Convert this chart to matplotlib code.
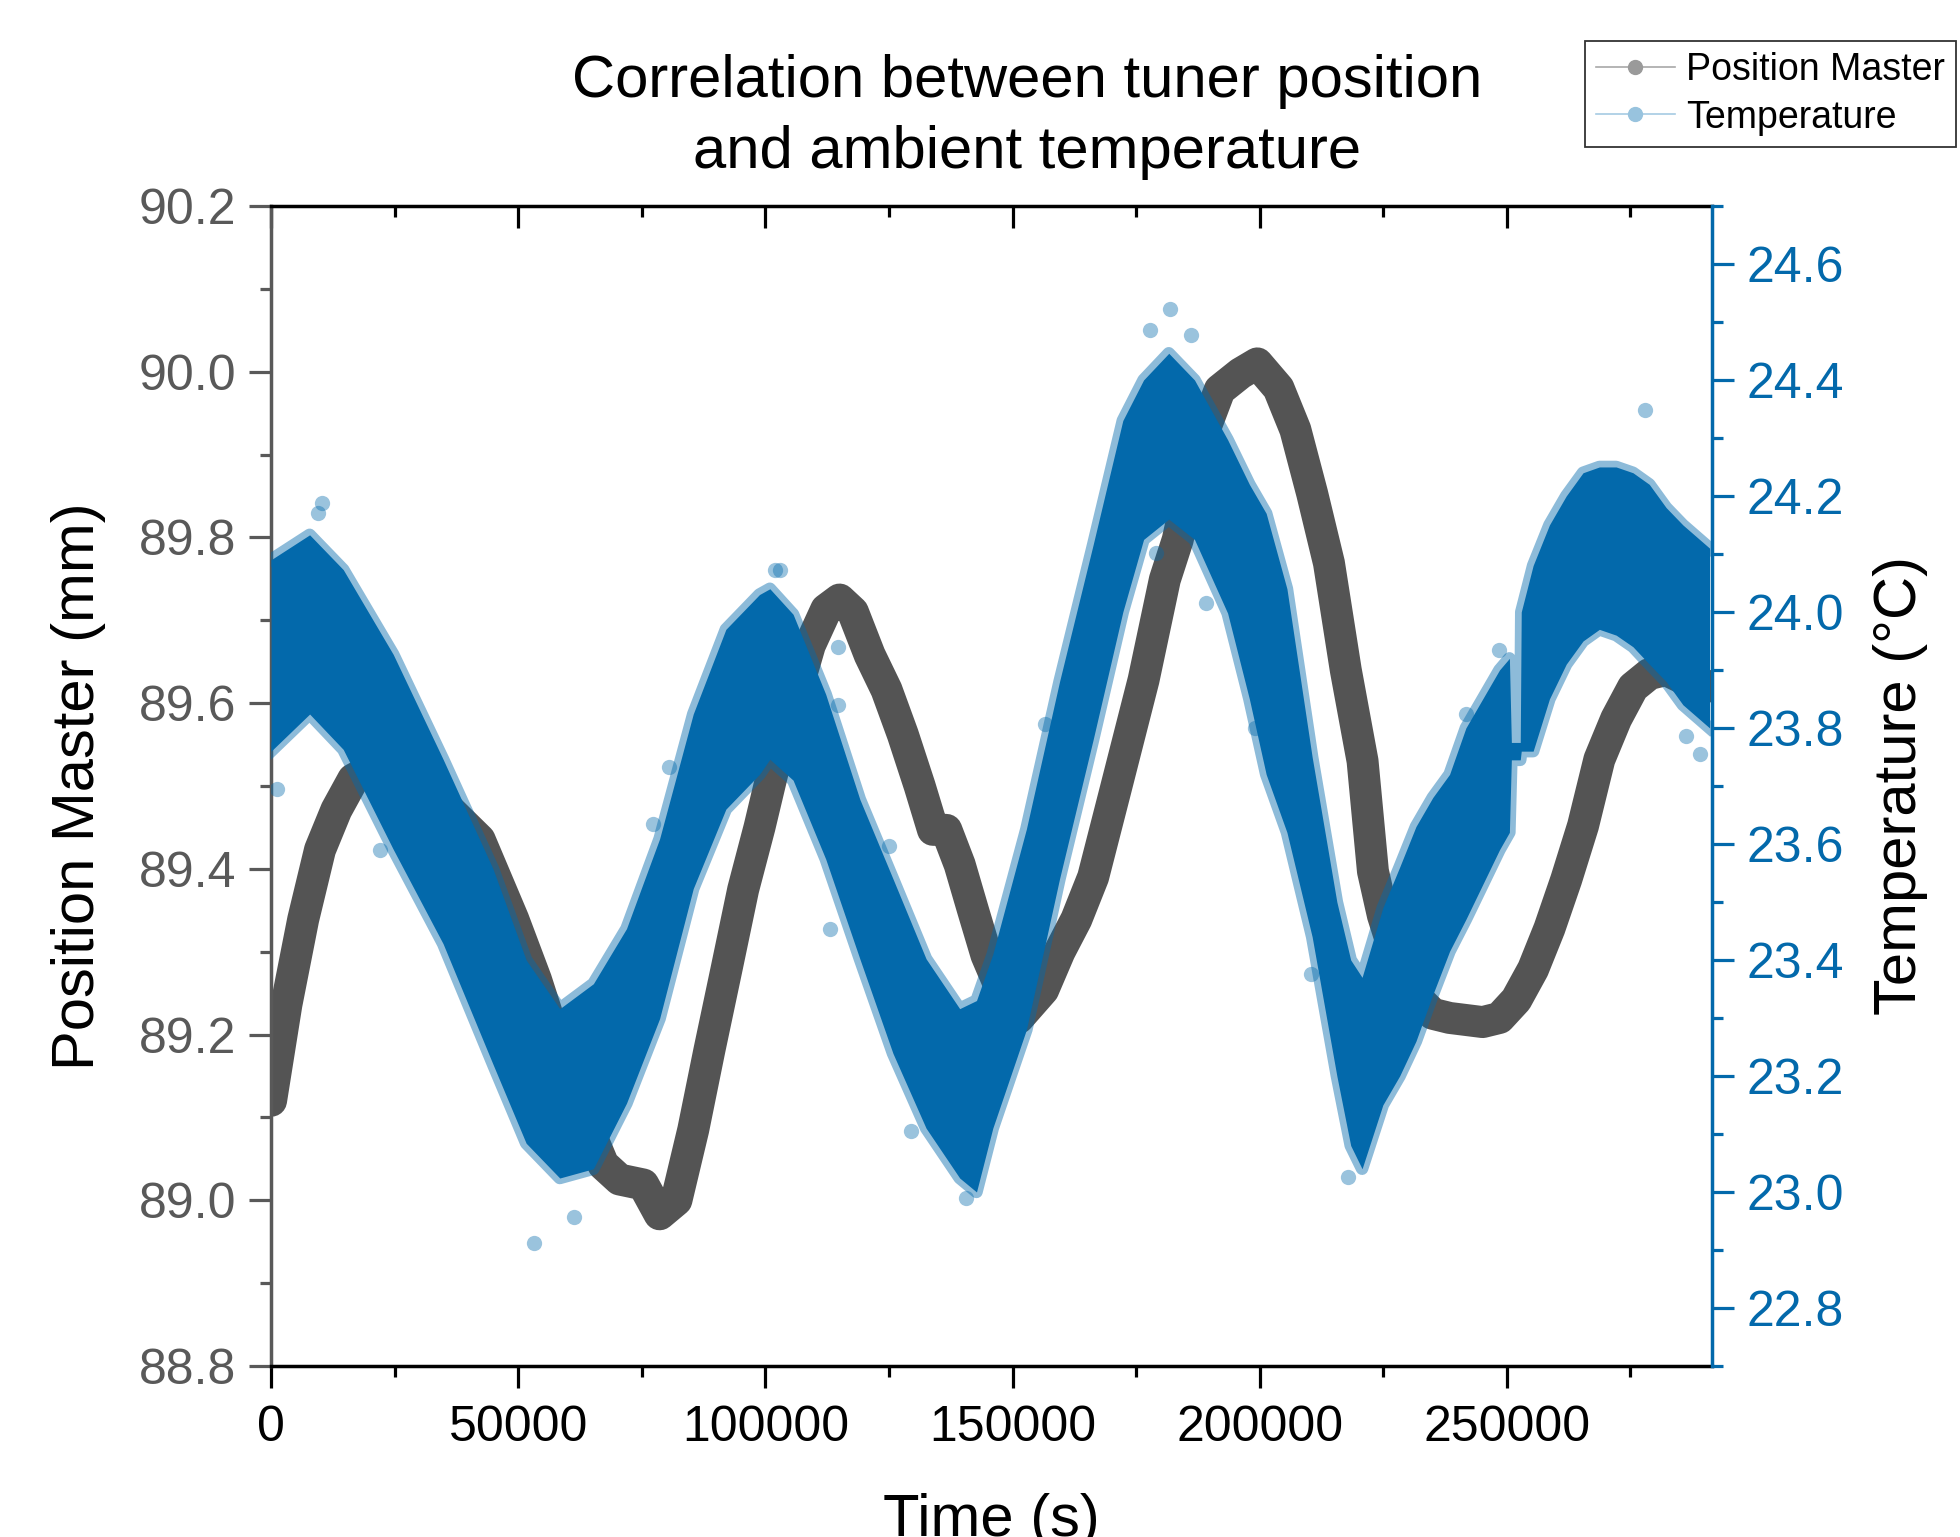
#!/usr/bin/env python3

# import modules
from matplotlib import pyplot as plt
from matplotlib.lines import Line2D
from matplotlib.ticker import MultipleLocator, FormatStrFormatter

plt.rcParams['font.family'] = ['Liberation Sans', 'DejaVu Sans']

# position master (centre of the grey trace), time in s, position in mm
position_time = [0, 3100, 6500, 9900, 13200, 16600, 23500, 31100, 42200, 49000, 53600,
	60400, 67200, 70500, 75300, 78600, 82000, 85400, 88700, 92100, 95500,
	98800, 101600, 105600, 109000, 112300, 115000, 117700, 121100, 124500, 127800,
	131200, 133900, 136600, 139300, 142000, 144700, 148700, 151200, 156200, 159500,
	162900, 166300, 170600, 176500, 180800, 183400, 187600, 191900, 196100, 199500,
	203800, 207200, 210600, 214000, 217400, 220800, 222900, 224900, 228300, 231600,
	235000, 238400, 245100, 248500, 251900, 255300, 258600, 262000, 265400, 268700,
	272100, 275500, 278800, 282200, 285600, 291000]
position_mm = [89.12, 89.236, 89.339, 89.423, 89.471, 89.508, 89.53, 89.50, 89.435, 89.339, 89.266,
	89.14, 89.043, 89.025, 89.019, 88.983, 89.0, 89.085, 89.182, 89.278, 89.375,
	89.45, 89.52, 89.60, 89.67, 89.713, 89.725, 89.71, 89.658, 89.616, 89.562,
	89.50, 89.447, 89.447, 89.405, 89.35, 89.296, 89.24, 89.22, 89.254, 89.30,
	89.339, 89.39, 89.49, 89.628, 89.749, 89.797, 89.91, 89.978, 89.998, 90.01,
	89.98, 89.93, 89.853, 89.769, 89.64, 89.53, 89.397, 89.344, 89.28, 89.245,
	89.225, 89.22, 89.215, 89.22, 89.242, 89.279, 89.328, 89.387, 89.452, 89.532,
	89.581, 89.619, 89.635, 89.64, 89.63, 89.62]

# temperature band (upper and lower edge of the noisy blue trace), degC
temp_time = [0, 7800, 14600, 24700, 34800, 44900, 51600, 58400, 65200, 71900,
	78600, 85400, 92000, 98800, 100900, 105600, 112200, 119100, 125800, 132500,
	139300, 142700, 146000, 152800, 159500, 166300, 172300, 176500, 181600, 186800,
	193500, 197900, 201300, 205500, 210600, 215600, 218400, 220700, 224900, 228300,
	231600, 235000, 238400, 241700, 245100, 248500, 250500, 250900, 252700, 252900,
	255300, 258600, 262000, 265400, 268700, 272100, 275500, 278800, 282200, 285600, 291000]
temp_upper = [24.09, 24.133, 24.073, 23.927, 23.746, 23.557, 23.40, 23.316, 23.359, 23.454,
	23.609, 23.824, 23.97, 24.03, 24.04, 23.996, 23.858, 23.677, 23.54, 23.402,
	23.316, 23.33, 23.41, 23.626, 23.88, 24.116, 24.33, 24.40, 24.446, 24.40,
	24.297, 24.22, 24.17, 24.04, 23.75, 23.50, 23.40, 23.37, 23.49, 23.56,
	23.63, 23.68, 23.72, 23.80, 23.85, 23.90, 23.92, 23.775, 23.775, 24.0,
	24.08, 24.15, 24.2, 24.24, 24.25, 24.25, 24.24, 24.22, 24.18, 24.15, 24.11]
temp_lower = [23.76, 23.824, 23.763, 23.591, 23.428, 23.22, 23.084, 23.024, 23.04, 23.153,
	23.299, 23.523, 23.66, 23.72, 23.746, 23.71, 23.574, 23.402, 23.239, 23.11,
	23.024, 23.0, 23.11, 23.28, 23.54, 23.78, 24.0, 24.125, 24.16, 24.125,
	23.998, 23.85, 23.72, 23.62, 23.44, 23.2, 23.08, 23.04, 23.15, 23.2,
	23.26, 23.34, 23.415, 23.47, 23.53, 23.59, 23.62, 23.745, 23.745, 23.76,
	23.76, 23.85, 23.91, 23.95, 23.97, 23.96, 23.94, 23.91, 23.88, 23.84, 23.80]

# single temperature readings standing out of the band
outlier_time = [1300, 9400, 10400, 22000, 53100, 61200, 77300, 80400, 101900, 102900,
	113000, 114700, 114700, 125100, 129400, 140600, 156500, 177800, 179100, 181800,
	186100, 189100, 199100, 210300, 217900, 241700, 248500, 278000, 286300, 289100]
outlier_temp = [23.695, 24.17, 24.187, 23.59, 22.912, 22.957, 23.634, 23.733, 24.073, 24.073,
	23.454, 23.94, 23.84, 23.596, 23.105, 22.99, 23.806, 24.486, 24.102, 24.523,
	24.477, 24.015, 23.80, 23.375, 23.026, 23.824, 23.935, 24.348, 23.786, 23.755]

gray = '#545454'
blue = '#0369AB'
axis_gray = '#595959'

# plot
fig = plt.figure(figsize=(19.6, 15.37), dpi=100)
ax = fig.add_axes([0.1383, 0.1113, 0.7352, 0.7547])
ax2 = ax.twinx()

ax.plot(position_time, position_mm, color=gray, lw=23, solid_capstyle='round', solid_joinstyle='round')

ax2.fill_between(temp_time, temp_lower, temp_upper, color=blue, lw=0)
ax2.plot(temp_time, temp_upper, color=blue, lw=9, alpha=0.45, solid_joinstyle='round')
ax2.plot(temp_time, temp_lower, color=blue, lw=9, alpha=0.45, solid_joinstyle='round')
ax2.plot(outlier_time, outlier_temp, 'o', color=blue, alpha=0.4, ms=11, mew=0)

# axes ranges and ticks
ax.set_xlim(0, 291500)
ax.set_ylim(88.8, 90.2)

ax.xaxis.set_major_locator(MultipleLocator(50000))
ax.xaxis.set_minor_locator(MultipleLocator(25000))
ax.yaxis.set_major_locator(MultipleLocator(0.2))
ax.yaxis.set_minor_locator(MultipleLocator(0.1))
ax.yaxis.set_major_formatter(FormatStrFormatter('%.1f'))
ax2.yaxis.set_major_locator(MultipleLocator(0.2))
ax2.yaxis.set_minor_locator(MultipleLocator(0.1))
ax2.yaxis.set_major_formatter(FormatStrFormatter('%.1f'))
ax2.set_ylim(22.7, 24.7)

ax.tick_params(axis='x', which='both', direction='out', top=True, labeltop=False, color='black', width=2.3, labelsize=36, labelcolor='black', pad=12)
ax.tick_params(axis='x', which='major', length=16)
ax.tick_params(axis='x', which='minor', length=8)
# top ticks point inwards
for t in ax.xaxis.get_major_ticks() + ax.xaxis.get_minor_ticks():
	t.tick2line.set_marker(3)

ax.tick_params(axis='y', which='both', direction='out', color=axis_gray, width=2.3, labelsize=36, labelcolor=axis_gray, pad=9)
ax.tick_params(axis='y', which='major', length=16)
ax.tick_params(axis='y', which='minor', length=8)
ax2.tick_params(axis='y', which='both', direction='out', color=blue, width=2.3, labelsize=36, labelcolor=blue, pad=9)
ax2.tick_params(axis='y', which='major', length=16)
ax2.tick_params(axis='y', which='minor', length=8)

for side in ['top', 'bottom']:
	ax.spines[side].set_linewidth(2.5)
	ax2.spines[side].set_visible(False)
ax.spines['left'].set_color(axis_gray)
ax.spines['left'].set_linewidth(2.5)
ax.spines['right'].set_visible(False)
ax2.spines['left'].set_visible(False)
ax2.spines['right'].set_color(blue)
ax2.spines['right'].set_linewidth(2.5)

# labels
ax.set_xlabel('Time (s)', fontsize=43)
ax.xaxis.set_label_coords(0.5, -0.1095)
ax.set_ylabel('Position Master (mm)', fontsize=43)
ax.yaxis.set_label_coords(-0.1145, 0.5)
ax2.set_ylabel('Temperature (°C)', fontsize=43, rotation=90)
ax2.yaxis.set_label_coords(1.1115, 0.5)

fig.text(0.5242, 1 - 117 / 1537, 'Correlation between tuner position\nand ambient temperature',
	fontsize=43, ha='center', va='center', linespacing=1.39)

handles = [Line2D([], [], color='#a8a8a8', lw=1.2, marker='o', ms=10, mfc='#9a9a9a', mec='#9a9a9a'),
	Line2D([], [], color='#a6cbe3', lw=1.2, marker='o', ms=10, mfc='#98c3de', mec='#98c3de')]
leg = fig.legend(handles, ['Position Master', 'Temperature'], loc='upper right', bbox_to_anchor=(0.998, 0.9733),
	fontsize=27, frameon=True, fancybox=False, edgecolor='black', borderpad=0.3, handlelength=2.1,
	handletextpad=0.3, labelspacing=0.3, borderaxespad=0)
leg.get_frame().set_linewidth(1.3)

# write to disk
fig.savefig('out.png', dpi=100)
